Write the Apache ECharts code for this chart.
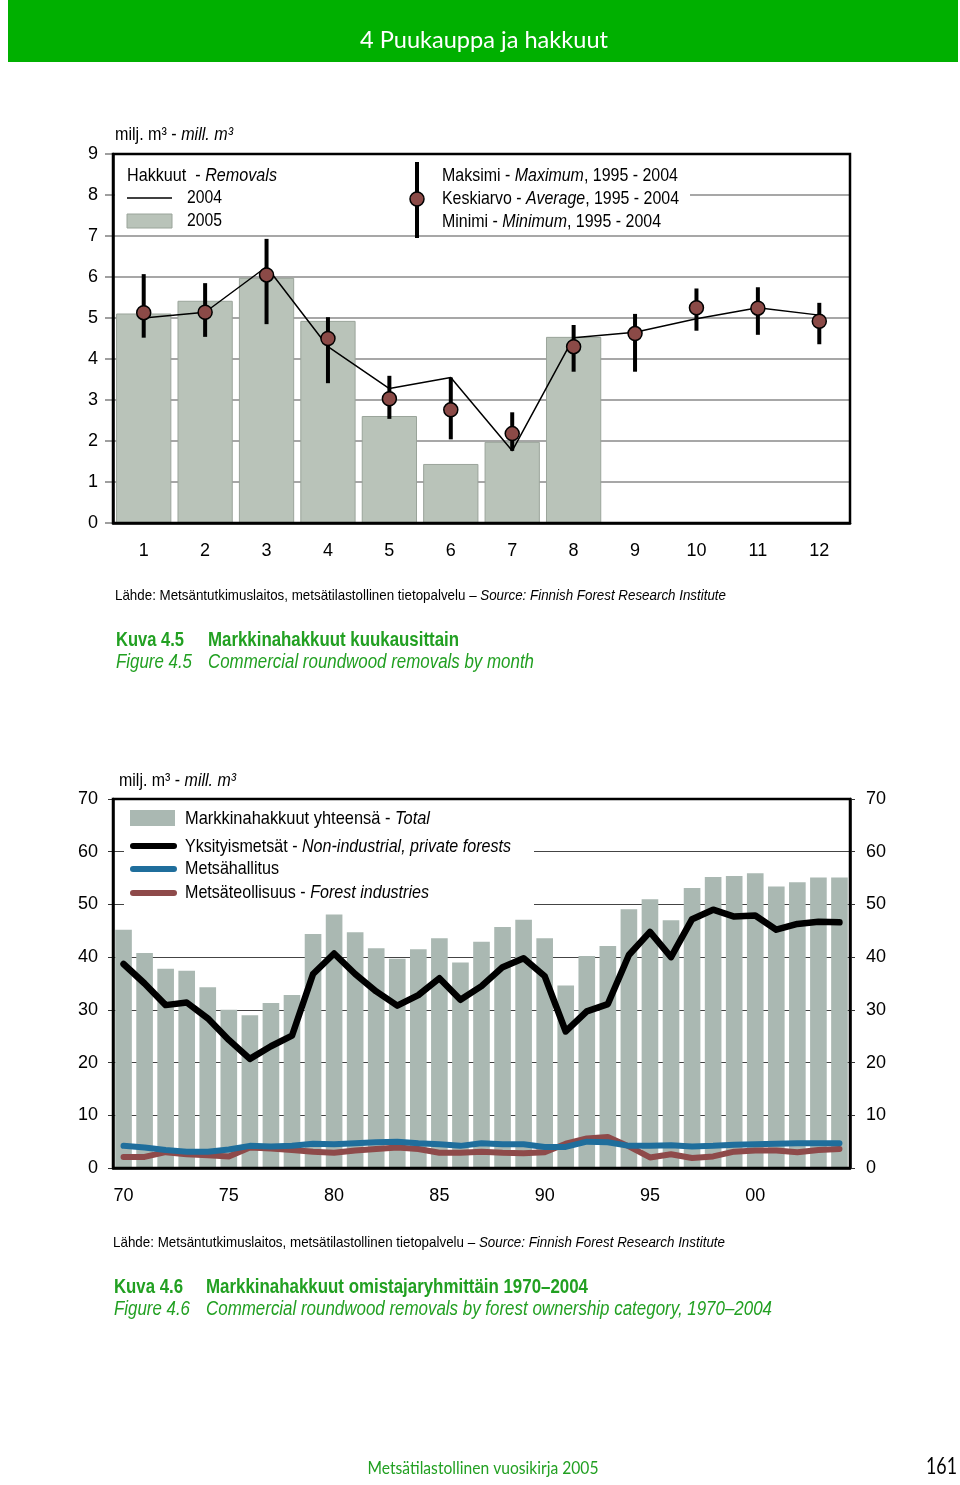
<!DOCTYPE html>
<html>
<head>
<meta charset="utf-8">
<script src="https://cdn.jsdelivr.net/npm/echarts@6/dist/echarts.min.js"></script>
<style>
html,body{margin:0;padding:0;background:#fff;}
#c{width:960px;height:1485px;}
</style>
</head>
<body>
<div id="c"></div>
<script>
// ---------- Figure 4.5 data (monthly, million m3) ----------
const months = ['1','2','3','4','5','6','7','8','9','10','11','12'];
const removals2005 = [5.11,5.42,5.98,4.93,2.61,1.44,1.98,4.54,null,null,null,null];
const removals2004 = [5.00,5.14,6.25,4.30,3.28,3.55,1.76,4.52,4.65,4.98,5.25,5.07];
const avg9504 = [5.13,5.14,6.05,4.50,3.03,2.76,2.18,4.30,4.62,5.25,5.24,4.92];
const max9504 = [6.07,5.85,6.93,5.02,3.59,3.55,2.70,4.83,5.10,5.72,5.75,5.37];
const min9504 = [4.52,4.54,4.85,3.41,2.54,2.04,1.76,3.69,3.69,4.69,4.59,4.36];
const ticksTop = [0,1,2,3,4,5,6,7,8,9];

// ---------- Figure 4.6 data (yearly 1970-2004, million m3) ----------
const years = ['70','71','72','73','74','75','76','77','78','79',
               '80','81','82','83','84','85','86','87','88','89',
               '90','91','92','93','94','95','96','97','98','99',
               '00','01','02','03','04'];
const totalRemovals = [45.2,40.8,37.8,37.4,34.3,30.0,29.0,31.3,32.8,44.4,
                       48.1,44.7,41.7,39.7,41.5,43.6,39.0,42.9,45.7,47.1,
                       43.6,34.6,40.2,42.1,49.1,51.0,47.0,53.1,55.2,55.4,
                       55.9,53.4,54.2,55.1,55.1];
const privateForests = [38.7,35.0,30.9,31.4,28.4,24.3,20.7,23.1,25.1,36.8,
                        40.7,36.8,33.5,30.8,32.8,36.0,31.9,34.5,38.1,39.8,
                        36.4,25.9,29.7,31.1,40.4,44.8,40.0,47.2,49.0,47.7,
                        47.9,45.2,46.3,46.7,46.6];
const metsahallitus = [4.2,3.9,3.4,3.1,3.1,3.5,4.2,4.1,4.2,4.6,
                       4.5,4.7,4.9,5.0,4.7,4.5,4.2,4.7,4.5,4.5,
                       4.0,4.0,5.0,4.9,4.2,4.2,4.3,4.1,4.2,4.4,
                       4.5,4.6,4.7,4.7,4.7];
const forestIndustries = [2.1,2.1,3.0,2.6,2.4,2.2,3.9,3.7,3.4,3.1,
                          2.9,3.3,3.6,3.9,3.6,2.9,2.9,3.1,2.9,2.8,
                          3.0,4.6,5.6,5.9,4.1,2.0,2.6,1.9,2.2,3.1,
                          3.3,3.3,3.0,3.4,3.6];

const FONT = "'Liberation Sans', Arial, sans-serif";
const GILL = "Lato, 'Open Sans', sans-serif";
const GREEN = '#22a022';
const BAR1 = '#b9c3b9';
const BAR2 = '#aab8b2';
const DOT = '#8b4a47';
const BLUE = '#1f6e9c';
const BROWN = '#8e4a4a';

const ctx = document.createElement('canvas').getContext('2d');
function segs(text) {
  const out = []; const re = /\{(\w)\|([^}]*)\}/g; let last = 0, m;
  while ((m = re.exec(text))) {
    if (m.index > last) out.push({t: text.slice(last, m.index), it: false});
    out.push({t: m[2], it: true}); last = re.lastIndex;
  }
  if (last < text.length) out.push({t: text.slice(last), it: false});
  return out;
}
function measure(text, size, weight, style, family) {
  let w = 0;
  for (const s of segs(text)) {
    ctx.font = (s.it ? 'italic' : style) + ' ' + weight + ' ' + size + 'px ' + family;
    w += ctx.measureText(s.t).width;
  }
  return w;
}

function T(x, y, text, o) {
  o = o || {};
  const size = o.size || 18;
  const fam = o.family || FONT;
  const weight = o.weight || 'normal';
  const fstyle = o.style || 'normal';
  const st = {
    text: text, x: 0, y: 0,
    fill: o.color || '#000',
    fontSize: size, fontFamily: fam, fontWeight: weight, fontStyle: fstyle,
    textAlign: o.align || 'left', textVerticalAlign: 'middle',
    align: o.align || 'left', verticalAlign: 'middle'
  };
  if (text.indexOf('{i|') >= 0) {
    st.rich = {
      i: {fontStyle: 'italic', fontSize: size, fontFamily: fam, fill: o.color || '#000', fontWeight: weight}
    };
  }
  let sx = 1;
  if (o.w) sx = o.w / measure(text, size, weight, fstyle, fam);
  return {type: 'text', x: x, y: y, scaleX: sx, scaleY: 1, z: 50, style: st, silent: true};
}

const chart = echarts.init(document.getElementById('c'), null, {renderer: 'canvas'});

const graphics = [
  // header
  {type: 'rect', shape: {x: 8, y: 0, width: 950, height: 62}, style: {fill: '#00b000'}, z: 1},
  T(484, 40, '4 Puukauppa ja hakkuut', {size: 24, family: GILL, color: '#fff', align: 'center', w: 248}),

  // ---- top chart ----
  T(115, 135, 'milj. m³ - {i|mill. m³}', {size: 18, w: 118}),
  {type: 'rect', shape: {x: 115, y: 156, width: 575, height: 76}, style: {fill: '#fff'}, z: 1},
  T(127, 176, 'Hakkuut  - {i|Removals}', {size: 19, w: 150}),
  {type: 'line', shape: {x1: 127, y1: 198, x2: 172, y2: 198}, style: {stroke: '#000', lineWidth: 1.5}, z: 50},
  T(187, 198, '2004', {size: 19, w: 35}),
  {type: 'rect', shape: {x: 127, y: 214, width: 45, height: 14}, style: {fill: BAR1, stroke: '#9aa49a', lineWidth: 1}, z: 50},
  T(187, 221, '2005', {size: 19, w: 35}),
  {type: 'line', shape: {x1: 417, y1: 162, x2: 417, y2: 238}, style: {stroke: '#000', lineWidth: 4}, z: 50},
  {type: 'circle', shape: {cx: 417, cy: 199, r: 7}, style: {fill: DOT, stroke: '#000', lineWidth: 1.5}, z: 51},
  T(442, 176, 'Maksimi - {i|Maximum}, 1995 - 2004', {size: 19, w: 236}),
  T(442, 199, 'Keskiarvo - {i|Average}, 1995 - 2004', {size: 19, w: 237}),
  T(442, 222, 'Minimi - {i|Minimum}, 1995 - 2004', {size: 19, w: 219}),
  {type: 'rect', shape: {x: 113, y: 154, width: 737, height: 369}, style: {fill: 'none', stroke: '#000', lineWidth: 2.5}, z: 100},

  T(115, 596, 'Lähde: Metsäntutkimuslaitos, metsätilastollinen tietopalvelu – {i|Source: Finnish Forest Research Institute}', {size: 15, w: 611}),
  T(116, 640, 'Kuva 4.5', {size: 20, weight: 'bold', color: GREEN, w: 68}),
  T(208, 640, 'Markkinahakkuut kuukausittain', {size: 20, weight: 'bold', color: GREEN, w: 251}),
  T(116, 662, 'Figure 4.5', {size: 20, style: 'italic', color: GREEN, w: 76}),
  T(208, 662, 'Commercial roundwood removals by month', {size: 20, style: 'italic', color: GREEN, w: 326}),

  // ---- bottom chart ----
  T(119, 781, 'milj. m³ - {i|mill. m³}', {size: 19, w: 117}),
  {type: 'rect', shape: {x: 124, y: 801, width: 410, height: 107}, style: {fill: '#fff'}, z: 1},
  {type: 'rect', shape: {x: 130, y: 810, width: 45, height: 16}, style: {fill: BAR2}, z: 50},
  T(185, 819, 'Markkinahakkuut yhteensä - {i|Total}', {size: 19, w: 245}),
  {type: 'line', shape: {x1: 133, y1: 846, x2: 174, y2: 846}, style: {stroke: '#000', lineWidth: 6, lineCap: 'round'}, z: 50},
  T(185, 847, 'Yksityismetsät - {i|Non-industrial, private forests}', {size: 19, w: 326}),
  {type: 'line', shape: {x1: 133, y1: 869, x2: 174, y2: 869}, style: {stroke: BLUE, lineWidth: 6, lineCap: 'round'}, z: 50},
  T(185, 869, 'Metsähallitus', {size: 19, w: 94}),
  {type: 'line', shape: {x1: 133, y1: 893, x2: 174, y2: 893}, style: {stroke: BROWN, lineWidth: 6, lineCap: 'round'}, z: 50},
  T(185, 893, 'Metsäteollisuus - {i|Forest industries}', {size: 19, w: 244}),
  {type: 'rect', shape: {x: 113, y: 799, width: 737, height: 369}, style: {fill: 'none', stroke: '#000', lineWidth: 2.5}, z: 100},

  T(113, 1243, 'Lähde: Metsäntutkimuslaitos, metsätilastollinen tietopalvelu – {i|Source: Finnish Forest Research Institute}', {size: 15, w: 612}),
  T(114, 1287, 'Kuva 4.6', {size: 20, weight: 'bold', color: GREEN, w: 69}),
  T(206, 1287, 'Markkinahakkuut omistajaryhmittäin 1970–2004', {size: 20, weight: 'bold', color: GREEN, w: 382}),
  T(114, 1309, 'Figure 4.6', {size: 20, style: 'italic', color: GREEN, w: 76}),
  T(206, 1309, 'Commercial roundwood removals by forest ownership category, 1970–2004', {size: 20, style: 'italic', color: GREEN, w: 566}),

  // footer
  T(483, 1468, 'Metsätilastollinen vuosikirja 2005', {size: 18, family: GILL, color: GREEN, align: 'center', w: 231}),
  T(957, 1467, '161', {size: 23, family: GILL, color: '#000', align: 'right', w: 31})
];

const labelStyle = {fontFamily: FONT, fontSize: 18, color: '#000'};

const option = {
  animation: false,
  backgroundColor: '#fff',
  grid: [
    {left: 113, top: 154, width: 737, height: 369, containLabel: false},
    {left: 113, top: 799, width: 737, height: 369, containLabel: false}
  ],
  xAxis: [
    {
      type: 'category', gridIndex: 0, data: months, boundaryGap: true,
      axisLine: {lineStyle: {color: '#000', width: 2.5}},
      axisTick: {alignWithLabel: true, length: 7, lineStyle: {color: '#000', width: 1}},
      axisLabel: Object.assign({margin: 19}, labelStyle),
      splitLine: {show: false}
    },
    {
      type: 'category', gridIndex: 1, data: years, boundaryGap: true,
      axisLine: {lineStyle: {color: '#000', width: 2.5}},
      axisTick: {interval: 0, alignWithLabel: true, length: 6, lineStyle: {color: '#000', width: 1}},
      axisLabel: Object.assign({margin: 19, interval: 4}, labelStyle),
      splitLine: {show: false}
    }
  ],
  yAxis: [
    {
      type: 'value', gridIndex: 0, min: ticksTop[0], max: ticksTop[ticksTop.length - 1], interval: 1,
      axisLine: {show: true, lineStyle: {color: '#000', width: 2.5}},
      axisTick: {show: true, length: 8, lineStyle: {color: '#808080', width: 1.5}},
      axisLabel: Object.assign({margin: 15}, labelStyle),
      splitLine: {show: true, lineStyle: {color: '#8a8a8a', width: 1.5}}
    },
    {
      type: 'value', gridIndex: 1, min: 0, max: 70, interval: 10,
      axisLine: {show: true, lineStyle: {color: '#000', width: 2.5}},
      axisTick: {show: true, length: 5, lineStyle: {color: '#333', width: 1}},
      axisLabel: Object.assign({margin: 15}, labelStyle),
      splitLine: {show: true, lineStyle: {color: '#444', width: 1}}
    },
    {
      type: 'value', gridIndex: 1, position: 'right', min: 0, max: 70, interval: 10,
      axisLine: {show: true, lineStyle: {color: '#000', width: 2.5}},
      axisTick: {show: true, length: 5, lineStyle: {color: '#333', width: 1}},
      axisLabel: Object.assign({margin: 16}, labelStyle),
      splitLine: {show: false}
    }
  ],
  series: [
    {
      name: '2005', type: 'bar', xAxisIndex: 0, yAxisIndex: 0, data: removals2005,
      barCategoryGap: '10%', z: 2,
      itemStyle: {color: BAR1, borderColor: '#9aa49a', borderWidth: 1}
    },
    {
      name: '2004', type: 'line', xAxisIndex: 0, yAxisIndex: 0, data: removals2004,
      symbol: 'none', z: 3, lineStyle: {color: '#000', width: 1.5}
    },
    {
      name: 'range', type: 'custom', xAxisIndex: 0, yAxisIndex: 0, z: 4,
      data: months.map((m, i) => [i, min9504[i], max9504[i]]),
      encode: {x: 0, y: [1, 2]},
      renderItem: function (params, api) {
        const a = api.coord([api.value(0), api.value(1)]);
        const b = api.coord([api.value(0), api.value(2)]);
        return {type: 'line', shape: {x1: a[0], y1: a[1], x2: b[0], y2: b[1]},
                style: {stroke: '#000', lineWidth: 4}};
      }
    },
    {
      name: 'avg', type: 'scatter', xAxisIndex: 0, yAxisIndex: 0, data: avg9504,
      symbolSize: 14, z: 5,
      itemStyle: {color: DOT, borderColor: '#000', borderWidth: 1.5, opacity: 1}
    },
    {
      name: 'Total', type: 'bar', xAxisIndex: 1, yAxisIndex: 1, data: totalRemovals,
      barCategoryGap: '21%', z: 2, itemStyle: {color: BAR2}
    },
    {
      name: 'Forest industries', type: 'line', xAxisIndex: 1, yAxisIndex: 1, data: forestIndustries,
      symbol: 'none', z: 3, lineStyle: {color: BROWN, width: 6, cap: 'round', join: 'round'}
    },
    {
      name: 'Metsähallitus', type: 'line', xAxisIndex: 1, yAxisIndex: 1, data: metsahallitus,
      symbol: 'none', z: 4, lineStyle: {color: BLUE, width: 6, cap: 'round', join: 'round'}
    },
    {
      name: 'Private', type: 'line', xAxisIndex: 1, yAxisIndex: 1, data: privateForests,
      symbol: 'none', z: 5, lineStyle: {color: '#000', width: 6.5, cap: 'round', join: 'round'}
    }
  ],
  graphic: graphics
};

chart.setOption(option);
</script>
</body>
</html>
